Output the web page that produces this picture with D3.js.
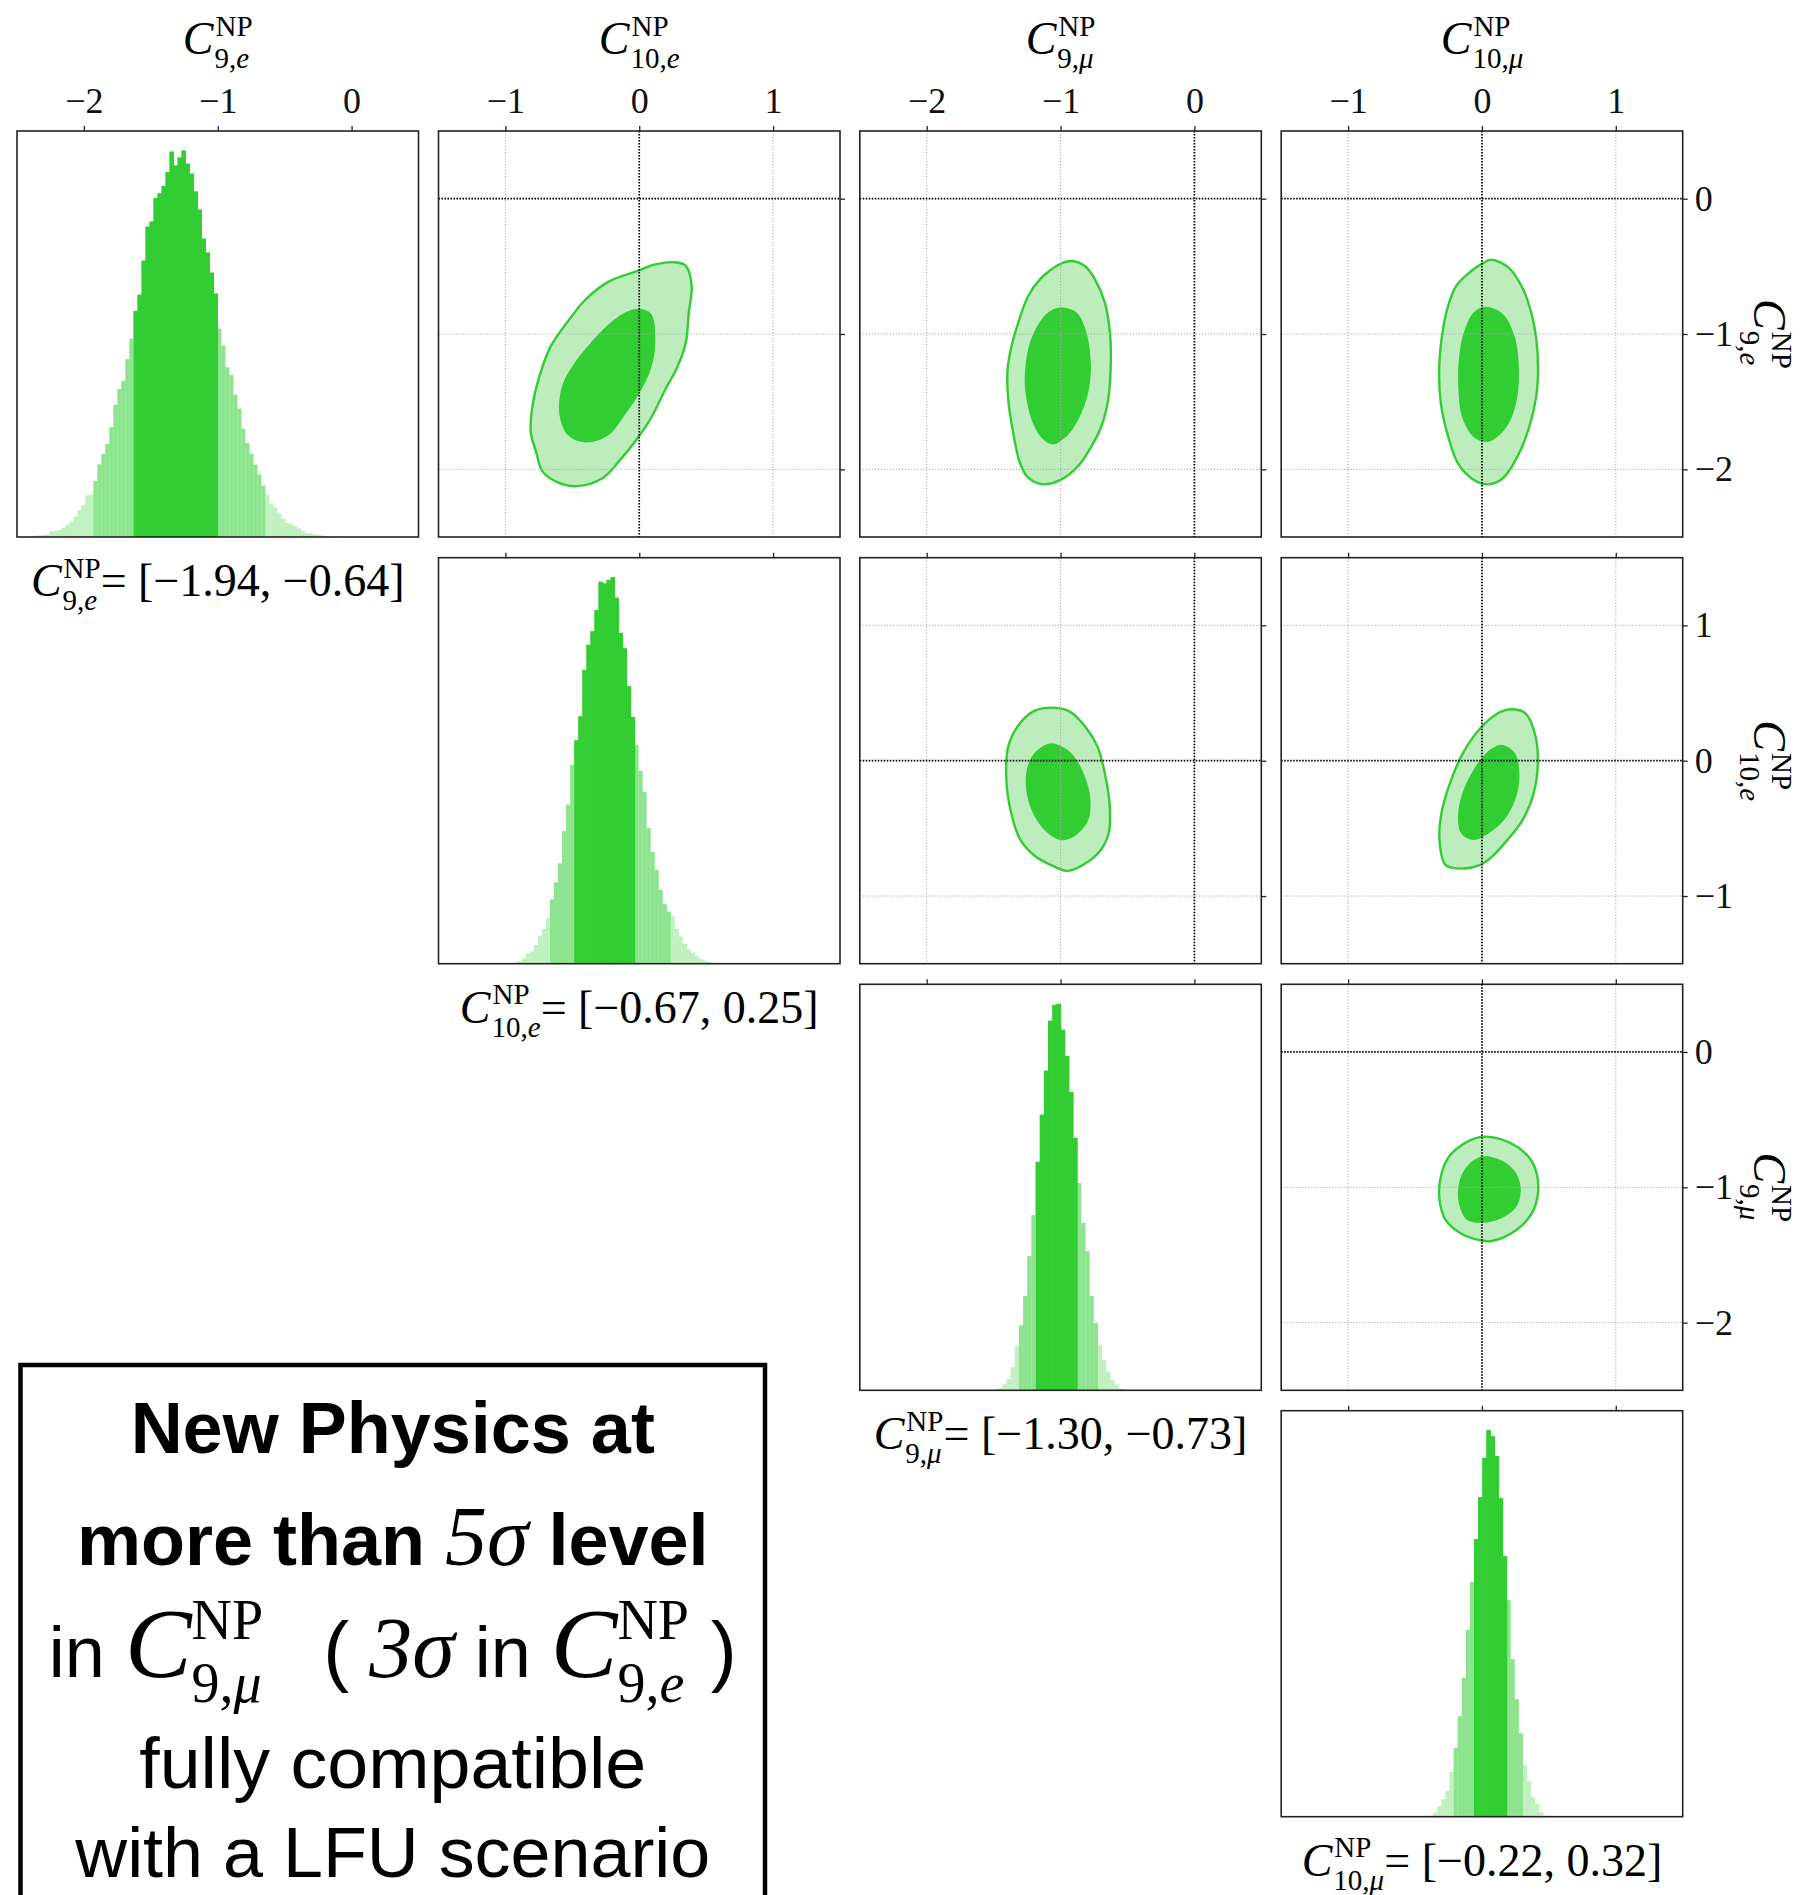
<!DOCTYPE html>
<html>
<head>
<meta charset="utf-8">
<script src="https://cdn.jsdelivr.net/npm/d3@7"></script>
<style>
  body { margin: 0; background: #fff; }
  svg { display: block; }
  text { white-space: pre; }
</style>
</head>
<body>
<svg id="chart" width="1804" height="1895"></svg>
<script>
// ---------------- data ----------------
// Wilson coefficients shown on the corner plot (order = rows/columns)
const params = ["C9e", "C10e", "C9mu", "C10mu"];
const paramIndex = [["9", "e"], ["10", "e"], ["9", "μ"], ["10", "μ"]];
const axisDomains = [[-2.5, 0.5], [-1.5, 1.5], [-2.5, 0.5], [-1.5, 1.5]];
const tickValues = [[-2, -1, 0], [-1, 0, 1], [-2, -1, 0], [-1, 0, 1]];

// credible intervals: 68% (dark bars) and 95% (quoted under each histogram)
const interval68 = [[-1.63, -1.00], [-0.486, -0.032], [-1.187, -0.875], [-0.06, 0.184]];
const interval95 = [[-1.94, -0.64], [-0.67, 0.25], [-1.30, -0.73], [-0.22, 0.32]];

// marginal posteriors: first bin edge, bin width, relative bin heights
const histStart = [-2.408, -0.968, -1.498, -0.395];
const histBinWidth = [0.0299, 0.0301, 0.0311, 0.0305];
const histC9e = [0.26, 0.35, 0.43, 0.52, 0.69, 1.55, 1.55, 1.81, 2.42, 3.11, 3.89, 5.27, 7.0, 8.29, 10.8,
  11.05, 14.5, 18.8, 21.5, 24.1, 28.4, 34.2, 38.3, 40.4, 46.0, 51.3,
  58.5, 62.7, 71.5, 80.3, 81.6, 87.7, 88.9, 90.8, 94.4, 99.7, 96.1, 98.2, 100, 96.6, 94.0, 89.4, 84.7, 77.2,
  73.6, 68.4, 63.0,
  53.9, 49.5, 43.9, 41.9, 36.8, 33.2, 28.0, 24.3, 21.5, 18.7, 16.2, 13.3, 10.9, 8.7, 7.7, 6.0, 4.7, 3.7,
  3.4, 2.8, 2.2, 1.6, 1.0, 0.95, 0.7, 0.5, 0.35, 0.26, 0.17, 0.09];
const histC10e = [0.1, 0.26, 0.6, 1.38, 2.67, 3.19, 4.83, 7.16, 8.97, 11.8, 16.65, 21.05, 25.97, 34.3, 41.2, 51.4,
  57.8, 64.0, 76.0, 82.5, 86.0, 91.5, 98.8, 98.4, 99.3, 100, 94.7, 85.6, 81.6, 71.8, 63.8,
  56.5, 49.9, 44.4, 35.1, 28.9, 24.3, 19.1, 15.4, 13.5, 12.3, 9.0, 7.0, 5.1, 3.7, 2.9, 1.9, 1.2, 0.78, 0.43,
  0.26, 0.17];
const histC9mu = [0.26, 0.6, 1.55, 2.9, 6.0, 11.5, 16.8, 24.4, 34.7, 45.3,
  59.1, 71.3, 82.7, 95.6, 99.7, 100, 93.3, 86.5, 77.2, 65.3,
  53.6, 43.3, 36.0, 24.4, 17.4, 11.7, 7.9, 4.7, 2.7, 1.5, 0.5, 0.17];
const histC10mu = [0.26, 1.03, 2.76, 4.57, 6.64, 11.55, 17.8, 26.0, 35.9, 48.3, 60.7,
  71.8, 82.7, 92.8, 100, 98.4, 93.3, 82.4, 67.4,
  56.0, 40.8, 30.4, 21.6, 13.4, 9.2, 5.1, 3.3, 1.2, 0.26];
const histCounts = [histC9e, histC10e, histC9mu, histC10mu];

// joint posteriors: 68% and 95% contour outlines, [x, y] in coefficient units
const contourC10eC9e68 = [[0.004, -0.813], [0.090, -0.852], [0.120, -1.063], [0.090, -1.248], [0.004, -1.433],
  [-0.103, -1.591], [-0.232, -1.749], [-0.395, -1.802], [-0.532, -1.749], [-0.597, -1.591], [-0.575, -1.380],
  [-0.489, -1.222], [-0.361, -1.063], [-0.232, -0.931], [-0.103, -0.839]];
const contourC10eC9e95 = [[0.262, -0.470], [0.348, -0.496], [0.391, -0.641], [0.369, -0.852], [0.348, -1.063],
  [0.283, -1.248], [0.197, -1.406], [0.090, -1.617], [-0.017, -1.776], [-0.146, -1.934], [-0.275, -2.066],
  [-0.468, -2.124], [-0.618, -2.092], [-0.725, -2.013], [-0.768, -1.881], [-0.811, -1.723], [-0.790, -1.486],
  [-0.725, -1.248], [-0.661, -1.090], [-0.532, -0.905], [-0.403, -0.747], [-0.232, -0.615], [-0.017, -0.536],
  [0.112, -0.488]];
const contourC9muC9e68 = [[-0.980, -0.805], [-0.880, -0.842], [-0.806, -0.990], [-0.773, -1.236], [-0.793, -1.433],
  [-0.843, -1.581], [-0.930, -1.729], [-1.055, -1.815], [-1.142, -1.766], [-1.217, -1.631], [-1.262, -1.433],
  [-1.266, -1.286], [-1.229, -1.064], [-1.142, -0.892], [-1.055, -0.818]];
const contourC9muC9e95 = [[-0.918, -0.461], [-0.818, -0.498], [-0.743, -0.596], [-0.669, -0.768], [-0.631, -0.990],
  [-0.624, -1.187], [-0.644, -1.483], [-0.694, -1.680], [-0.768, -1.828], [-0.868, -1.975], [-0.993, -2.074],
  [-1.130, -2.111], [-1.242, -2.062], [-1.304, -1.951], [-1.354, -1.729], [-1.391, -1.483], [-1.396, -1.261],
  [-1.366, -1.089], [-1.316, -0.916], [-1.242, -0.719], [-1.154, -0.596], [-1.067, -0.522], [-0.993, -0.478]];
const contourC10muC9e68 = [[0.026, -0.799], [0.156, -0.852], [0.242, -1.011], [0.276, -1.248], [0.255, -1.512],
  [0.177, -1.697], [0.048, -1.797], [-0.060, -1.763], [-0.147, -1.617], [-0.177, -1.380], [-0.168, -1.142],
  [-0.125, -0.958], [-0.060, -0.839]];
const contourC10muC9e95 = [[0.069, -0.451], [0.199, -0.509], [0.307, -0.668], [0.371, -0.852], [0.406, -1.037],
  [0.419, -1.248], [0.406, -1.459], [0.350, -1.697], [0.264, -1.908], [0.156, -2.066], [0.048, -2.111],
  [-0.060, -2.079], [-0.177, -1.960], [-0.255, -1.749], [-0.307, -1.512], [-0.320, -1.274], [-0.298, -1.011],
  [-0.255, -0.799], [-0.190, -0.641], [-0.082, -0.536], [0.004, -0.478]];
const contourC9muC10e68 = [[-1.055, 0.128], [-0.931, 0.067], [-0.839, -0.069], [-0.779, -0.266], [-0.793, -0.439],
  [-0.885, -0.550], [-0.991, -0.587], [-1.092, -0.538], [-1.193, -0.414], [-1.253, -0.242], [-1.253, -0.069],
  [-1.207, 0.042], [-1.138, 0.104]];
const contourC9muC10e95 = [[-1.069, 0.392], [-0.931, 0.363], [-0.816, 0.252], [-0.724, 0.104], [-0.669, -0.094],
  [-0.632, -0.340], [-0.641, -0.538], [-0.701, -0.661], [-0.816, -0.760], [-0.945, -0.814], [-1.069, -0.772],
  [-1.184, -0.710], [-1.299, -0.587], [-1.368, -0.390], [-1.405, -0.143], [-1.391, 0.104], [-1.322, 0.252],
  [-1.207, 0.363]];
const contourC10muC10e68 = [[0.156, 0.116], [0.248, 0.054], [0.280, -0.118], [0.248, -0.291], [0.166, -0.439],
  [0.051, -0.537], [-0.064, -0.587], [-0.156, -0.537], [-0.179, -0.414], [-0.147, -0.242], [-0.064, -0.069],
  [0.028, 0.054], [0.097, 0.104]];
const contourC10muC10e95 = [[0.234, 0.380], [0.326, 0.350], [0.395, 0.202], [0.418, 0.005], [0.386, -0.242],
  [0.303, -0.439], [0.189, -0.587], [0.074, -0.710], [-0.018, -0.772], [-0.133, -0.797], [-0.271, -0.772],
  [-0.317, -0.587], [-0.303, -0.390], [-0.248, -0.192], [-0.156, 0.030], [-0.064, 0.178], [0.051, 0.301],
  [0.143, 0.363]];
const contourC10muC9mu68 = [[0.028, -0.770], [0.166, -0.812], [0.257, -0.898], [0.290, -1.021], [0.257, -1.144],
  [0.143, -1.230], [0.005, -1.262], [-0.110, -1.242], [-0.166, -1.144], [-0.179, -1.021], [-0.147, -0.898],
  [-0.064, -0.800]];
const contourC10muC9mu95 = [[0.051, -0.627], [0.211, -0.672], [0.349, -0.775], [0.409, -0.898], [0.418, -1.046],
  [0.372, -1.193], [0.257, -1.316], [0.074, -1.397], [-0.018, -1.390], [-0.156, -1.341], [-0.271, -1.242],
  [-0.317, -1.095], [-0.308, -0.923], [-0.248, -0.775], [-0.133, -0.677], [-0.041, -0.635]];

const contourPanels = [
  { row: 0, col: 1, c68: contourC10eC9e68, c95: contourC10eC9e95 },
  { row: 0, col: 2, c68: contourC9muC9e68, c95: contourC9muC9e95 },
  { row: 0, col: 3, c68: contourC10muC9e68, c95: contourC10muC9e95 },
  { row: 1, col: 2, c68: contourC9muC10e68, c95: contourC9muC10e95 },
  { row: 1, col: 3, c68: contourC10muC10e68, c95: contourC10muC10e95 },
  { row: 2, col: 3, c68: contourC10muC9mu68, c95: contourC10muC9mu95 }
];

// ---------------- layout ----------------
const panelW = 401.5, panelH = 406;
const colX = [17, 438.5, 859.8, 1281.2];
const rowY = [131, 557.7, 984.3, 1410.7];
const GREEN = "#32cd32";
const LIGHT_FILL = "#bdedbd";
const serif = "'Liberation Serif', 'Times New Roman', serif";
const sans = "'Liberation Sans', Arial, Helvetica, sans-serif";
const fmt = d3.format(".2f");

const svg = d3.select("#chart");
const defs = svg.append("defs");

const xScales = axisDomains.map((d, c) => d3.scaleLinear().domain(d).range([colX[c], colX[c] + panelW]));
const yScales = axisDomains.map((d, r) => d3.scaleLinear().domain(d).range([rowY[r] + panelH, rowY[r]]));

// ---------- text helper: one <text> per label, pieces as positioned tspans ----------
function layout(g, items) {
  const text = g.append("text").attr("fill", "#000");
  function run(x, pieces) {
    for (const p of pieces) {
      x += p.dx || 0;
      const ts = text.append("tspan")
        .attr("x", x).attr("y", p.y || 0)
        .attr("font-family", p.f || serif)
        .attr("font-size", p.s)
        .attr("font-style", p.i ? "italic" : "normal")
        .attr("font-weight", p.b ? "bold" : "normal")
        .text(p.t);
      if (p.len) {
        text.attr("textLength", p.len).attr("lengthAdjust", "spacingAndGlyphs");
        x += p.len;
      } else {
        x += ts.node().getComputedTextLength();
      }
    }
    return x;
  }
  let x = 0;
  for (const it of items) {
    if (it.scripts) {
      const a = run(x, it.sup), b = run(x, it.sub);
      x = Math.max(a, b);
    } else {
      x = run(x, [it]);
    }
  }
  return x;
}
// C^NP with the coefficient/lepton subscript
function paramTokens(k, fs, ss) {
  const [num, lep] = paramIndex[k];
  return [
    { t: "C", i: true, s: fs },
    { scripts: true,
      sup: [{ t: "NP", s: ss, y: -0.40 * fs, dx: 2 }],
      sub: [{ t: num + ",", s: ss, y: 0.30 * fs, dx: 1 }, { t: lep, s: ss, i: true, y: 0.30 * fs }] }
  ];
}

// ---------- panels ----------
function frame(r, c) {
  svg.append("rect")
    .attr("x", colX[c]).attr("y", rowY[r])
    .attr("width", panelW).attr("height", panelH)
    .attr("fill", "none").attr("stroke", "#222").attr("stroke-width", 1.6);
}
function topAxis(r, c) {
  const ax = d3.axisTop(xScales[c]).tickValues(tickValues[c]).tickSize(5).tickPadding(13)
    .tickFormat(r === 0 ? d3.format("d") : () => "");
  const g = svg.append("g").attr("transform", `translate(0,${rowY[r]})`).call(ax);
  g.select(".domain").remove();
  g.attr("font-family", serif).attr("font-size", 36);
  g.selectAll(".tick line").attr("stroke", "#222").attr("stroke-width", 1.3);
  g.selectAll(".tick text").attr("fill", "#111");
}
function rightAxis(r, c) {
  const ax = d3.axisRight(yScales[r]).tickValues(tickValues[r]).tickSize(5).tickPadding(7)
    .tickFormat(c === 3 ? d3.format("d") : () => "");
  const g = svg.append("g").attr("transform", `translate(${colX[c] + panelW},0)`).call(ax);
  g.select(".domain").remove();
  g.attr("font-family", serif).attr("font-size", 36);
  g.selectAll(".tick line").attr("stroke", "#222").attr("stroke-width", 1.3);
  g.selectAll(".tick text").attr("fill", "#111");
}

// histograms on the diagonal
params.forEach((p, k) => {
  const xs = xScales[k];
  const counts = histCounts[k];
  const ys = d3.scaleLinear().domain([0, d3.max(counts) * 1.05]).range([rowY[k] + panelH, rowY[k]]);
  const bins = counts.map((v, i) => {
    const x0 = histStart[k] + i * histBinWidth[k];
    const x1 = x0 + histBinWidth[k];
    const mid = (x0 + x1) / 2;
    const tier = (mid >= interval68[k][0] && mid <= interval68[k][1]) ? 0
      : (mid >= interval95[k][0] && mid <= interval95[k][1]) ? 1 : 2;
    return { x0, x1, v, tier };
  });
  const g = svg.append("g");
  g.selectAll("rect").data(bins).join("rect")
    .attr("x", d => xs(d.x0))
    .attr("width", d => xs(d.x1) - xs(d.x0) + (d.tier === 0 ? 0.6 : 0))
    .attr("y", d => ys(d.v))
    .attr("height", d => ys(0) - ys(d.v))
    .attr("fill", GREEN)
    .attr("fill-opacity", d => [1, 0.55, 0.3][d.tier]);
  frame(k, k);
  topAxis(k, k);

  // interval label under the histogram
  const lab = svg.append("g");
  const w = layout(lab, paramTokens(k, 46, 29).concat([
    { t: "= [" + fmt(interval95[k][0]) + ", " + fmt(interval95[k][1]) + "]", s: 46 }
  ]));
  lab.attr("transform", `translate(${colX[k] + panelW / 2 - w / 2},${rowY[k] + panelH + 59})`);
});

// joint posteriors above the diagonal
const contourLine = d3.line().curve(d3.curveCatmullRomClosed.alpha(0.5));
contourPanels.forEach(({ row, col, c68, c95 }) => {
  const xs = xScales[col], ys = yScales[row];
  const id = `clip-${row}-${col}`;
  defs.append("clipPath").attr("id", id).append("rect")
    .attr("x", colX[col]).attr("y", rowY[row]).attr("width", panelW).attr("height", panelH);
  const g = svg.append("g").attr("clip-path", `url(#${id})`);
  const proj = pts => pts.map(d => [xs(d[0]), ys(d[1])]);

  g.append("path").attr("d", contourLine(proj(c95)))
    .attr("fill", LIGHT_FILL).attr("stroke", GREEN).attr("stroke-width", 2.4);
  g.append("path").attr("d", contourLine(proj(c68)))
    .attr("fill", GREEN).attr("stroke", "none");

  // light dotted grid at the tick positions
  tickValues[col].forEach(v => {
    g.append("line").attr("x1", xs(v)).attr("x2", xs(v)).attr("y1", rowY[row]).attr("y2", rowY[row] + panelH)
      .attr("stroke", "#aaa").attr("stroke-width", 1).attr("stroke-dasharray", "1.2,1.8");
  });
  tickValues[row].forEach(v => {
    g.append("line").attr("y1", ys(v)).attr("y2", ys(v)).attr("x1", colX[col]).attr("x2", colX[col] + panelW)
      .attr("stroke", "#aaa").attr("stroke-width", 1).attr("stroke-dasharray", "1.2,1.8");
  });
  // Standard Model reference lines at zero
  g.append("line").attr("x1", xs(0)).attr("x2", xs(0)).attr("y1", rowY[row]).attr("y2", rowY[row] + panelH)
    .attr("stroke", "#000").attr("stroke-width", 1.7).attr("stroke-dasharray", "1.5,1.5");
  g.append("line").attr("y1", ys(0)).attr("y2", ys(0)).attr("x1", colX[col]).attr("x2", colX[col] + panelW)
    .attr("stroke", "#000").attr("stroke-width", 1.7).attr("stroke-dasharray", "1.5,1.5");

  frame(row, col);
  topAxis(row, col);
  rightAxis(row, col);
});

// column titles
params.forEach((p, k) => {
  const g = svg.append("g");
  const w = layout(g, paramTokens(k, 46, 29));
  g.attr("transform", `translate(${colX[k] + panelW / 2 - w / 2},54)`);
});

// row titles on the right, rotated
[0, 1, 2].forEach(k => {
  const g = svg.append("g");
  const w = layout(g, paramTokens(k, 46, 29));
  const cy = rowY[k] + panelH / 2;
  g.attr("transform", `translate(1754,${cy}) rotate(90) translate(${-w / 2},0)`);
});

// ---------- summary box ----------
const boxX = 20.5, boxY = 1365, boxR = 765;
svg.append("rect").attr("x", boxX).attr("y", boxY).attr("width", boxR - boxX).attr("height", 640)
  .attr("fill", "none").attr("stroke", "#000").attr("stroke-width", 4.5);
const boxCx = (boxX + boxR) / 2;

const boxLines = [
  { y: 1453, items: [{ t: "New Physics at", f: sans, b: true, s: 72 }] },
  { y: 1565, items: [
    { t: "more than ", f: sans, b: true, s: 72 },
    { t: "5σ", i: true, s: 84 },
    { t: " level", f: sans, b: true, s: 72 }] },
  { y: 1677, items: [
    { t: "in ", f: sans, s: 72 },
    { t: "C", i: true, s: 100 },
    { scripts: true,
      sup: [{ t: "NP", s: 56, y: -38, dx: 0 }],
      sub: [{ t: "9,", s: 56, y: 25, dx: 0 }, { t: "μ", s: 56, i: true, y: 25 }] },
    { t: "(", f: sans, s: 78, dx: 60 },
    { t: " ", f: sans, s: 72 },
    { t: "3σ", i: true, s: 86 },
    { t: " in ", f: sans, s: 72 },
    { t: "C", i: true, s: 100 },
    { scripts: true,
      sup: [{ t: "NP", s: 56, y: -38, dx: 0 }],
      sub: [{ t: "9,", s: 56, y: 25, dx: 0 }, { t: "e", s: 56, i: true, y: 25 }] },
    { t: " )", f: sans, s: 78 }] },
  { y: 1788, items: [{ t: "fully compatible", f: sans, s: 72, len: 507 }] },
  { y: 1877, items: [{ t: "with a LFU scenario", f: sans, s: 70, len: 635 }] }
];
boxLines.forEach(line => {
  const g = svg.append("g");
  const w = layout(g, line.items);
  g.attr("transform", `translate(${boxCx - w / 2},${line.y})`);
});
</script>
</body>
</html>
